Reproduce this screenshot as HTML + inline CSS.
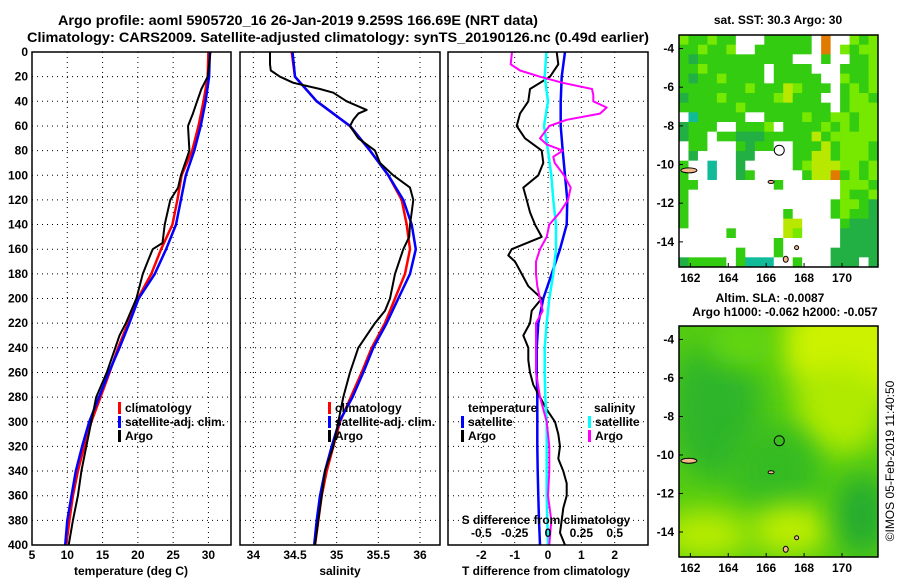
<!DOCTYPE html>
<html><head><meta charset="utf-8"><style>
html,body{margin:0;padding:0;background:#fff;}
svg{display:block;font-family:"Liberation Sans",sans-serif;font-weight:bold;}
</style></head><body>
<svg id="fig" width="900" height="580" viewBox="0 0 900 580" xmlns="http://www.w3.org/2000/svg">
<text x="298" y="25" font-size="14" text-anchor="middle" textLength="480" lengthAdjust="spacingAndGlyphs">Argo profile: aoml 5905720_16 26-Jan-2019 9.259S 166.69E (NRT data)</text>
<text x="338" y="42" font-size="14" text-anchor="middle" textLength="622" lengthAdjust="spacingAndGlyphs">Climatology: CARS2009. Satellite-adjusted climatology: synTS_20190126.nc (0.49d earlier)</text>
<g id="plots"></g>
<g id="maps"></g>
<text transform="translate(894,461) rotate(-90)" font-size="12" font-weight="normal" text-anchor="middle">©IMOS 05-Feb-2019 11:40:50</text>
</svg>
<script>
// ---- data ----
const depthC = [0,20,40,60,80,100,120,140,160,180,200,220,240,260,280,300,320,340,360,380,400];
const tempClim = [30.0,29.9,29.3,28.6,27.7,26.2,25.6,24.9,23.3,21.9,20.0,18.6,17.2,16.0,14.7,13.4,12.4,11.5,10.8,10.3,9.85];
const tempSat  = [30.2,30.1,29.6,28.9,28.0,26.8,26.1,25.4,24.0,22.4,20.1,18.8,17.4,15.9,14.5,13.1,12.1,11.2,10.6,10.0,9.7];
const depthT = [0,20,30,40,50,60,80,100,110,120,140,155,160,170,180,200,220,230,240,260,280,300,320,340,360,380,400];
const tempArgo = [30.3,29.9,29.0,28.4,27.8,27.1,27.3,26.1,25.7,24.6,23.8,23.5,22.1,21.4,20.7,19.8,18.3,17.4,16.8,15.6,14.1,13.4,12.7,12.0,11.5,10.8,10.2];
const salClim = [34.46,34.50,34.76,35.16,35.40,35.62,35.78,35.84,35.88,35.82,35.70,35.58,35.42,35.30,35.17,35.04,34.96,34.88,34.82,34.78,34.74];
const salSat  = [34.47,34.50,34.76,35.16,35.40,35.62,35.80,35.90,35.95,35.88,35.74,35.60,35.44,35.32,35.19,35.03,34.94,34.86,34.80,34.76,34.73];
const depthS = [0,10,15,20,25,30,33,40,47,50,55,60,70,80,90,100,110,120,130,140,150,160,180,200,210,220,240,260,280,300,320,340,360,380,400];
const salArgo = [34.20,34.20,34.21,34.32,34.48,34.80,34.96,35.12,35.36,35.26,35.20,35.16,35.26,35.46,35.52,35.68,35.88,35.92,35.90,35.88,35.87,35.80,35.70,35.64,35.58,35.46,35.26,35.16,35.08,35.02,34.96,34.86,34.82,34.78,34.74];
const dTsat = [0.51,0.41,0.38,0.38,0.44,0.51,0.58,0.56,0.36,0.11,-0.14,-0.29,-0.34,-0.34,-0.32,-0.32,-0.32,-0.31,-0.29,-0.27,-0.24];
const depthD = [0,10,20,30,40,50,60,70,80,90,100,110,120,130,140,150,160,165,170,180,190,200,210,220,230,240,250,260,270,280,290,300,310,320,330,340,350,360,370,380,390,400];
const dTargo = [0.26,0.31,0.06,-0.54,-0.59,-0.84,-0.94,-0.69,-0.19,-0.14,-0.29,-0.74,-0.64,-0.54,-0.39,-0.19,-1.09,-1.19,-0.99,-0.79,-0.59,-0.19,-0.49,-0.54,-0.74,-0.59,-0.59,-0.54,-0.44,-0.24,-0.04,0.21,0.31,0.36,0.31,0.46,0.56,0.56,0.46,0.41,0.36,0.51];
const dSsat = [-0.012,-0.025,0,-0.03,0,0.025,0.04,0.06,0.06,0.04,0.01,-0.01,-0.025,-0.025,-0.02,-0.01,-0.01,-0.01,-0.01,-0.005,0];
const depthM = [0,10,15,20,25,30,35,40,45,50,55,60,70,75,80,85,90,100,110,120,130,140,150,160,170,180,190,200,210,220,240,260,280,300,320,340,360,380,400];
const dSargo = [-0.27,-0.28,-0.21,-0.06,0.11,0.33,0.34,0.34,0.44,0.39,0.14,0.01,-0.06,-0.01,0.11,0.04,0.05,0.12,0.17,0.15,0.09,0.01,-0.01,-0.06,-0.09,-0.09,-0.08,-0.06,-0.04,-0.09,-0.09,-0.09,-0.06,-0.01,0.01,0.01,0.0,0.025,0.01];
const depthTicks = [0,20,40,60,80,100,120,140,160,180,200,220,240,260,280,300,320,340,360,380,400];
const tTicks = [5,10,15,20,25,30];
const sTicks = [34,34.5,35,35.5,36];
const dtTicks = [-2,-1,0,1,2];
const dsTicks = [-0.5,-0.25,0,0.25,0.5];

const NS="http://www.w3.org/2000/svg";
function mk(tag,attrs,parent,text){const e=document.createElementNS(NS,tag);for(const k in attrs)e.setAttribute(k,attrs[k]);if(text!==undefined)e.textContent=text;parent.appendChild(e);return e;}
const plots=document.getElementById('plots');
const Y0=52,Y1=545;
const yD=d=>Y0+(d-0)*(Y1-Y0)/400;
function lin(d0,d1,p0,p1){return v=>p0+(v-d0)*(p1-p0)/(d1-d0);}
const panels=[
 {x0:32,x1:231,sx:lin(5,33.2,32,231)},
 {x0:240,x1:440,sx:lin(33.84,36.24,240,440)},
 {x0:448,x1:648,sx:lin(-3,3,448,648)}
];
const sxS=lin(-0.75,0.75,448,648);

function grid(p,ticks,sx,name){
  const g=mk('g',{},plots);
  
  
  ticks.forEach(t=>{const x=sx(t);mk('line',{x1:x,x2:x,y1:Y0,y2:Y1,stroke:'#000','stroke-width':1,'stroke-dasharray':'1,4'},g);});
  depthTicks.forEach(d=>{if(d===0||d===400)return;const y=yD(d);mk('line',{x1:p.x0,x2:p.x1,y1:y,y2:y,stroke:'#000','stroke-width':1,'stroke-dasharray':'1,4'},g);});
}
function line(xs,ds,sx,color,w,name){
  const pts=xs.map((v,i)=>sx(v).toFixed(1)+','+yD(ds[i]).toFixed(1)).join(' ');
  const l=mk('polyline',{points:pts,fill:'none',stroke:color,'stroke-width':w,'stroke-linejoin':'round'},plots);
  
  
}
function frame(p,name){
  const r=mk('rect',{x:p.x0,y:Y0,width:p.x1-p.x0,height:Y1-Y0,fill:'none',stroke:'#000','stroke-width':1.5},plots);
  
  
}
function xlabels(ticks,sx,y,fmt,name){
  ticks.forEach(t=>{const e=mk('text',{x:sx(t),y:y,'font-size':12,'text-anchor':'middle'},plots,fmt(t));
  
  });
}
function legend(x,y,items,name){
  items.forEach((it,i)=>{
    const r=mk('rect',{x:x,y:y+i*14-10,width:3,height:12,fill:it[1]},plots);
    
    
    const t=mk('text',{x:x+7,y:y+i*14,'font-size':12},plots,it[0]);
    
    
  });
}
// panel 1
grid(panels[0],tTicks.slice(1),panels[0].sx,'temperature');
line(tempClim,depthC,panels[0].sx,'#f00',2.5,'temp-climatology-line');
line(tempSat,depthC,panels[0].sx,'#00f',2.5,'temp-satellite-line');
line(tempArgo,depthT,panels[0].sx,'#000',2,'temp-argo-line');
frame(panels[0],'temperature-panel');
depthTicks.forEach(d=>{const e=mk('text',{x:28,y:yD(d)+4,'font-size':12,'text-anchor':'end'},plots,String(d));

});
xlabels(tTicks,panels[0].sx,559,String,'temp-tick-label');
let e=mk('text',{x:131,y:575,'font-size':12,'text-anchor':'middle'},plots,'temperature (deg C)');


legend(118,412,[['climatology','#f00'],['satellite-adj. clim.','#00f'],['Argo','#000']],'temp-legend');
// panel 2
grid(panels[1],sTicks,panels[1].sx,'salinity');
line(salClim,depthC,panels[1].sx,'#f00',2.5,'sal-climatology-line');
line(salSat,depthC,panels[1].sx,'#00f',2.5,'sal-satellite-line');
line(salArgo,depthS,panels[1].sx,'#000',2,'sal-argo-line');
frame(panels[1],'salinity-panel');
xlabels(sTicks,panels[1].sx,559,String,'sal-tick-label');
e=mk('text',{x:340,y:575,'font-size':12,'text-anchor':'middle'},plots,'salinity');


legend(328,412,[['climatology','#f00'],['satellite-adj. clim.','#00f'],['Argo','#000']],'sal-legend');
// panel 3
grid(panels[2],dtTicks,panels[2].sx,'difference');
line(dTsat,depthC,panels[2].sx,'#00f',2.5,'dT-satellite-line');
line(dTargo,depthD,panels[2].sx,'#000',2,'dT-argo-line');
line(dSsat,depthC,sxS,'#0ff',2.5,'dS-satellite-line');
line(dSargo,depthM,sxS,'#f0f',2,'dS-argo-line');
frame(panels[2],'difference-panel');
xlabels(dtTicks,panels[2].sx,559,String,'dT-tick-label');
xlabels(dsTicks,sxS,537,String,'dS-tick-label');
e=mk('text',{x:546,y:524,'font-size':12,'text-anchor':'middle'},plots,'S difference from climatology');


e=mk('text',{x:546,y:575,'font-size':12,'text-anchor':'middle'},plots,'T difference from climatology');


e=mk('text',{x:468,y:412,'font-size':12},plots,'temperature');


legend(461,426,[['satellite','#00f'],['Argo','#000']],'dT-legend');
e=mk('text',{x:594,y:412,'font-size':12},plots,'salinity');


legend(588,426,[['satellite','#0ff'],['Argo','#f0f']],'dS-legend');

// ---- maps ----
const maps=document.getElementById('maps');
const sstRows=[
"lgglggwwwgggggwowwlgl",
"gglgglwwggggggwowlgll",
"gdggggggggggwwwgwwggl",
"gglggggggwggggwwwgggl",
"gdgglggggwgggggwwlggl",
"ggggggglgggylgggwglgl",
"dggglggggglygggwwgllg",
"gggggglgggggggggwglll",
"wcgggggwwgggglggllgll",
"dgggwwggglwgggglglgll",
"dggwggdddgggggyglllll",
"wggwwwgdggwwgggyglllg",
"wdwwwwddwwwwggyyglllg",
"gwwcwwdwwwwwglyyyllgl",
"gwwcwwdgwwwwwgyyoglgl",
"ggwwwwwwwwgwwwwwwlllg",
"gwwwwwwwwwwwwwwwwlggl",
"gwwwwwwwwwwwwwwwgllgd",
"gwwwwwwwwwwgwwwwglggd",
"gwwwwwwwwwwyywwwwgddd",
"wwwwwgwwwwwylwwwwdddd",
"wwwwwwwwwwgwwwwwwdddd",
"wwwwwwgwwwgwwwwwddddd",
"dggggwgcccwwgwwwdddwd"];
const sstCol={g:'#33cc11',l:'#77e800',d:'#22b044',y:'#b8e800',w:'#ffffff',o:'#e07a00',c:'#11bb99'};
const lonTicks=[162,164,166,168,170];
const latTicks=[-4,-6,-8,-10,-12,-14];
function mapAxes(x0,y0,x1,y1,name){
  const lx=lin(161.4,171.9,x0,x1), ly=lin(-3.3,-15.3,y0,y1);
  const r=mk('rect',{x:x0,y:y0,width:x1-x0,height:y1-y0,fill:'none',stroke:'#000','stroke-width':1.5},maps);
  
  
  lonTicks.forEach(t=>{const e=mk('text',{x:lx(t),y:y1+15,'font-size':12,'text-anchor':'middle'},maps,String(t));
  
  
  mk('line',{x1:lx(t),x2:lx(t),y1:y1,y2:y1-4,stroke:'#000'},maps);});
  latTicks.forEach(t=>{const e=mk('text',{x:x0-5,y:ly(t)+4,'font-size':12,'text-anchor':'end'},maps,String(t));
  
  
  mk('line',{x1:x0,x2:x0+4,y1:ly(t),y2:ly(t),stroke:'#000'},maps);});
  // islands & float position
  const isl=[[161.5,-10.3,16,5],[166.1,-10.9,6,3],[167.5,-14.3,4,4],[166.9,-14.9,5,6]];
  isl.forEach(s=>{const el=mk('ellipse',{cx:lx(s[0])+s[2]/2,cy:ly(s[1]),rx:s[2]/2,ry:s[3]/2,fill:'#f4b88a',stroke:'#000','stroke-width':1},maps);
  
  });
  const c=mk('circle',{cx:lx(166.69),cy:ly(-9.259),r:5,fill:'none',stroke:'#000','stroke-width':1},maps);
  
  
}
// map 1
(function(){
  const x0=679,y0=35,x1=878,y1=267;
  const cw=(x1-x0)/21, ch=(y1-y0)/24;
  const g=mk('g',{},maps);
  
  
  sstRows.forEach((row,r)=>{for(let c=0;c<row.length;c++){mk('rect',{x:(x0+c*cw).toFixed(2),y:(y0+r*ch).toFixed(2),width:(cw+0.5).toFixed(2),height:(ch+0.5).toFixed(2),fill:sstCol[row[c]]},g);}});
  mapAxes(x0,y0,x1,y1,'sst-map');
  const t=mk('text',{x:778,y:24,'font-size':12,'text-anchor':'middle'},maps,'sat. SST: 30.3 Argo: 30');
  
  
})();
// map 2
(function(){
  const x0=679,y0=326,x1=878,y1=557;
  const defs=mk('defs',{},maps);
  const f=mk('filter',{id:'blur',x:'-50%',y:'-50%',width:'200%',height:'200%'},defs);
  mk('feGaussianBlur',{stdDeviation:14},f);
  const cp=mk('clipPath',{id:'clip2'},defs);
  mk('rect',{x:x0,y:y0,width:x1-x0,height:y1-y0},cp);
  const g=mk('g',{'clip-path':'url(#clip2)'},maps);
  
  
  mk('rect',{x:x0,y:y0,width:x1-x0,height:y1-y0,fill:'#55cc11'},g);
  const blobs=[[860,345,80,60,'#ccf200'],[840,410,45,45,'#b0ea00'],[715,410,45,70,'#2eb52a'],[775,470,45,45,'#36bb22'],[705,535,45,25,'#b8ec00'],[790,530,40,25,'#c0ee00'],[862,515,25,40,'#22aa33'],[740,345,35,20,'#66d811']];
  blobs.forEach(b=>mk('ellipse',{cx:b[0],cy:b[1],rx:b[2],ry:b[3],fill:b[4],filter:'url(#blur)'},g));
  mapAxes(x0,y0,x1,y1,'sla-map');
  let t=mk('text',{x:770,y:302,'font-size':12,'text-anchor':'middle'},maps,'Altim. SLA: -0.0087');
  
  
  t=mk('text',{x:785,y:316,'font-size':12,'text-anchor':'middle'},maps,'Argo h1000: -0.062 h2000: -0.057');
  
  
})();
</script>
</body></html>
